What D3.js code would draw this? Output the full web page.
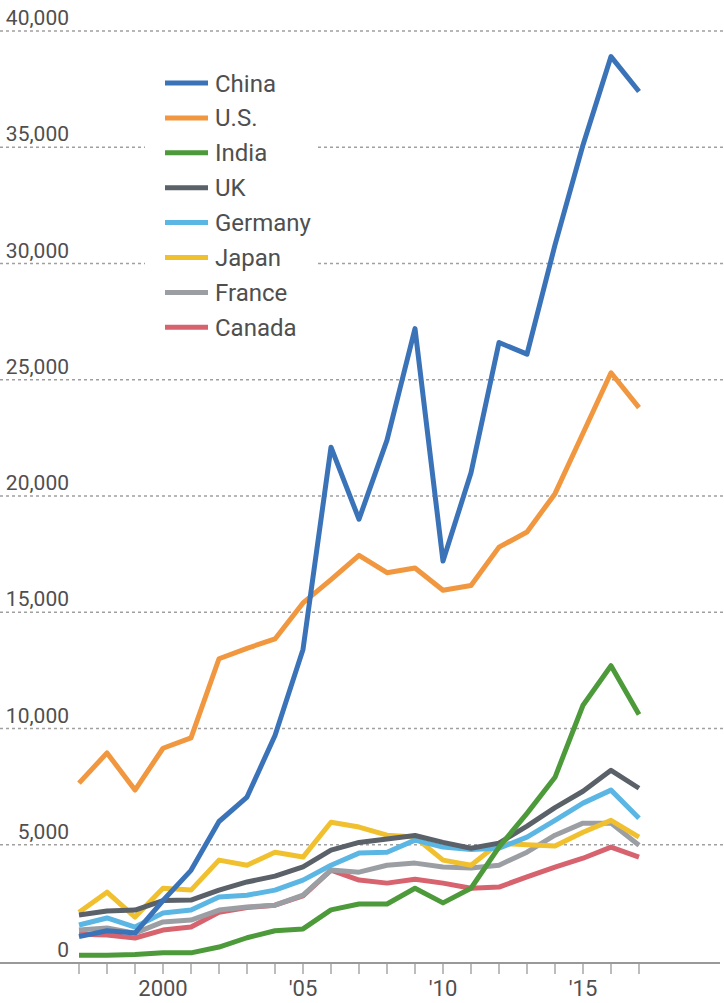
<!DOCTYPE html>
<html>
<head>
<meta charset="utf-8">
<script src="https://cdn.jsdelivr.net/npm/d3@7"></script>
<style>
  body { margin: 0; background: #fff; }
  text { font-family: Roboto, "Liberation Sans", sans-serif; fill: #4f4f4f; }
</style>
</head>
<body>
<div id="chart"></div>
<script>
// data
const years = d3.range(1997, 2018)
const countries = ["China", "U.S.", "India", "UK", "Germany", "Japan", "France", "Canada"]
const colors = ["#3b73b9", "#f0973f", "#4c9a3a", "#5b6169", "#5bb6e3", "#f0c02e", "#9b9fa4", "#d7636f"]

const china   = [1050, 1300, 1200, 2600, 3900, 6000, 7050, 9700, 13400, 22100, 19000, 22400, 27200, 17200, 21000, 26600, 26100, 30800, 35100, 38900, 37400]
const us      = [7650, 8950, 7350, 9150, 9600, 13000, 13450, 13850, 15400, 16400, 17450, 16700, 16900, 15950, 16150, 17800, 18450, 20100, 22700, 25300, 23800]
const india   = [250, 250, 280, 350, 350, 600, 1000, 1300, 1380, 2200, 2450, 2450, 3130, 2500, 3130, 4900, 6350, 7900, 11000, 12700, 10600]
const uk      = [1980, 2150, 2190, 2600, 2620, 3050, 3400, 3650, 4050, 4770, 5100, 5250, 5400, 5100, 4850, 5070, 5800, 6600, 7300, 8200, 7430]
const germany = [1550, 1850, 1460, 2060, 2190, 2750, 2830, 3050, 3480, 4120, 4640, 4680, 5200, 4900, 4800, 4850, 5330, 6050, 6790, 7350, 6140]
const japan   = [2100, 2960, 1890, 3130, 3050, 4340, 4120, 4680, 4470, 5970, 5760, 5410, 5330, 4340, 4120, 5070, 5000, 4950, 5540, 6050, 5330]
const france  = [1330, 1420, 1200, 1680, 1760, 2190, 2320, 2400, 2830, 3910, 3820, 4120, 4210, 4040, 4000, 4120, 4680, 5410, 5930, 5930, 4980]
const canada  = [1150, 1120, 990, 1330, 1460, 2100, 2300, 2400, 2800, 3910, 3480, 3350, 3520, 3350, 3130, 3180, 3620, 4040, 4420, 4900, 4470]

const yTicks = [0, 5000, 10000, 15000, 20000, 25000, 30000, 35000, 40000]
const xLabels = [[2000, "2000"], [2005, "'05"], [2010, "'10"], [2015, "'15"]]

const seriesValues = [china, us, india, uk, germany, japan, france, canada]

const width = 724, height = 1003

const svg = d3.select("#chart").append("svg")
  .attr("width", width)
  .attr("height", height)

const x = d3.scaleLinear().domain([1997, 2017]).range([79, 639])
const y = d3.scaleLinear().domain([0, 40000]).range([961, 31])

// gridlines (dotted)
svg.append("g")
  .selectAll("line")
  .data(yTicks.filter(d => d > 0))
  .enter().append("line")
  .attr("x1", 0).attr("x2", width)
  .attr("y1", d => y(d)).attr("y2", d => y(d))
  .attr("stroke", "#a0a0a0")
  .attr("stroke-width", 1.3)
  .attr("stroke-dasharray", "3,3")

// y labels
svg.append("g")
  .selectAll("text")
  .data(yTicks)
  .enter().append("text")
  .attr("x", 69)
  .attr("y", d => y(d) - (d == 0 ? 4 : 6))
  .attr("text-anchor", "end")
  .attr("font-size", 21)
  .text(d => d3.format(",")(d))

// baseline axis
svg.append("line")
  .attr("x1", 0).attr("x2", 720)
  .attr("y1", y(0) + 2).attr("y2", y(0) + 2)
  .attr("stroke", "#777")
  .attr("stroke-width", 1.6)

svg.append("g")
  .selectAll("line")
  .data(years)
  .enter().append("line")
  .attr("x1", d => x(d)).attr("x2", d => x(d))
  .attr("y1", y(0) + 3).attr("y2", y(0) + 13)
  .attr("stroke", "#999")
  .attr("stroke-width", 1.3)

svg.append("g")
  .selectAll("text")
  .data(xLabels)
  .enter().append("text")
  .attr("x", d => x(d[0]))
  .attr("y", 996)
  .attr("text-anchor", "middle")
  .attr("font-size", 22)
  .text(d => d[1])

// lines, China drawn last so it sits on top
let line = d3.line()
  .x((d, i) => x(years[i]))
  .y(d => y(d))

let order = d3.range(countries.length).reverse()

svg.append("g")
  .selectAll("path")
  .data(order)
  .enter().append("path")
  .attr("d", i => line(seriesValues[i]))
  .attr("fill", "none")
  .attr("stroke", i => colors[i])
  .attr("stroke-width", 5)
  .attr("stroke-linejoin", "round")
  .attr("stroke-linecap", "butt")

// legend, with a white box over the gridlines
let legend = svg.append("g")

legend.append("rect")
  .attr("x", 145).attr("y", 60)
  .attr("width", 173).attr("height", 284)
  .attr("fill", "#fff")

let items = legend.selectAll("g.item")
  .data(countries)
  .enter().append("g")
  .attr("class", "item")
  .attr("transform", (d, i) => "translate(0," + (83 + i * 34.9) + ")")

items.append("line")
  .attr("x1", 165).attr("x2", 208)
  .attr("y1", 0).attr("y2", 0)
  .attr("stroke", (d, i) => colors[i])
  .attr("stroke-width", 5)

items.append("text")
  .attr("x", 215)
  .attr("y", 8.5)
  .attr("font-size", 24)
  .text(d => d)
</script>
</body>
</html>
